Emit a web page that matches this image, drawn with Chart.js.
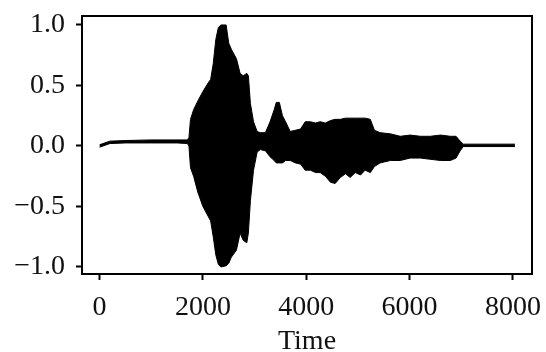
<!DOCTYPE html>
<html>
<head>
<meta charset="utf-8">
<script src="https://cdn.jsdelivr.net/npm/chart.js@4"></script>
<style>
  html, body { margin: 0; padding: 0; background: #fff; }
  #wrap { width: 546px; height: 352px; }
</style>
</head>
<body>
<div id="wrap"><canvas id="wave" width="546" height="352"></canvas></div>
<script>
// envelope of the waveform (sample index -> amplitude)
const times = [0, 200, 500, 1000, 1500, 1700, 1730, 1760, 1820, 1900, 2000, 2100, 2150, 2200, 2250, 2300, 2350, 2450, 2500, 2550, 2650, 2720, 2780, 2850, 2880, 2920, 2980, 3050, 3110, 3210, 3300, 3380, 3420, 3480, 3540, 3600, 3690, 3790, 3890, 3980, 4080, 4180, 4270, 4370, 4470, 4560, 4660, 4760, 4850, 4950, 5050, 5140, 5240, 5320, 5430, 5630, 5820, 6010, 6210, 6400, 6600, 6790, 6900, 6980, 7040, 8040];
const upper = [0.01, 0.04, 0.045, 0.05, 0.05, 0.05, 0.07, 0.22, 0.30, 0.37, 0.45, 0.52, 0.55, 0.68, 0.88, 0.98, 1.0, 1.0, 0.85, 0.80, 0.72, 0.60, 0.58, 0.60, 0.58, 0.35, 0.20, 0.12, 0.11, 0.11, 0.20, 0.30, 0.36, 0.36, 0.25, 0.20, 0.12, 0.13, 0.14, 0.20, 0.20, 0.19, 0.20, 0.19, 0.21, 0.22, 0.22, 0.23, 0.23, 0.23, 0.23, 0.23, 0.22, 0.13, 0.11, 0.10, 0.08, 0.09, 0.08, 0.08, 0.09, 0.08, 0.08, 0.04, 0.015, 0.015];
const lower = [-0.01, 0.02, 0.025, 0.025, 0.025, 0.02, 0.0, -0.18, -0.25, -0.38, -0.50, -0.58, -0.62, -0.75, -0.90, -0.98, -1.0, -0.99, -0.97, -0.92, -0.86, -0.72, -0.78, -0.80, -0.72, -0.45, -0.20, -0.05, -0.03, -0.04, -0.09, -0.12, -0.14, -0.14, -0.14, -0.12, -0.12, -0.14, -0.15, -0.20, -0.20, -0.22, -0.22, -0.25, -0.30, -0.31, -0.26, -0.23, -0.26, -0.22, -0.24, -0.20, -0.22, -0.17, -0.14, -0.12, -0.12, -0.10, -0.10, -0.11, -0.12, -0.12, -0.10, -0.04, -0.005, -0.005];

const xTicks = [0, 2000, 4000, 6000, 8000];
const yTicks = [-1.0, -0.5, 0.0, 0.5, 1.0];

const serif = "'Liberation Serif', 'DejaVu Serif', serif";

// matplotlib-style closed frame around the plot area
const frame = {
    id: "frame",
    afterDraw(chart) {
        const {ctx, chartArea: a} = chart;
        ctx.save();
        ctx.strokeStyle = "#000";
        ctx.lineWidth = 2;
        ctx.strokeRect(a.left, a.top, a.right - a.left, a.bottom - a.top);
        ctx.restore();
    }
};

const toPts = arr => arr.map((v, i) => ({x: times[i], y: v}));

new Chart(document.getElementById("wave"), {
    type: "line",
    data: {
        datasets: [{
            data: toPts(upper),
            borderColor: "#000",
            backgroundColor: "#000",
            borderWidth: 1,
            pointRadius: 0,
            tension: 0,
            fill: "+1",
        }, {
            data: toPts(lower),
            borderColor: "#000",
            borderWidth: 1,
            pointRadius: 0,
            tension: 0,
            fill: false,
        }],
    },
    options: {
        responsive: false,
        animation: false,
        layout: {padding: {left: 0, right: 14, top: 16, bottom: 0}},
        plugins: {legend: {display: false}, tooltip: {enabled: false}},
        scales: {
            x: {
                type: "linear",
                min: -340,
                max: 8370,
                afterBuildTicks: ax => { ax.ticks = xTicks.map(v => ({value: v})); },
                afterFit: ax => { ax.height = 78; ax.paddingLeft = 0; ax.paddingRight = 0; },
                grid: {drawOnChartArea: false, color: "#000", tickLength: 6, tickWidth: 2},
                border: {display: true, color: "#000", width: 2},
                ticks: {
                    color: "#111",
                    font: {family: serif, size: 28},
                    padding: 11,
                    maxRotation: 0,
                    callback: v => String(v),
                },
                title: {display: true, text: "Time", color: "#111", font: {family: serif, size: 28, lineHeight: 1.0}, padding: {top: 0, bottom: -4}},
            },
            y: {
                min: -1.058,
                max: 1.074,
                afterBuildTicks: ax => { ax.ticks = yTicks.map(v => ({value: v})); },
                afterFit: ax => { ax.width = 82; ax.paddingTop = 0; ax.paddingBottom = 0; },
                grid: {drawOnChartArea: false, color: "#000", tickLength: 6, tickWidth: 2},
                border: {display: true, color: "#000", width: 2},
                ticks: {
                    color: "#111",
                    font: {family: serif, size: 28},
                    padding: 11,
                    callback: v => v.toFixed(1).replace("-", "\u2212"),
                },
            },
        },
    },
    plugins: [frame],
});
</script>
</body>
</html>
